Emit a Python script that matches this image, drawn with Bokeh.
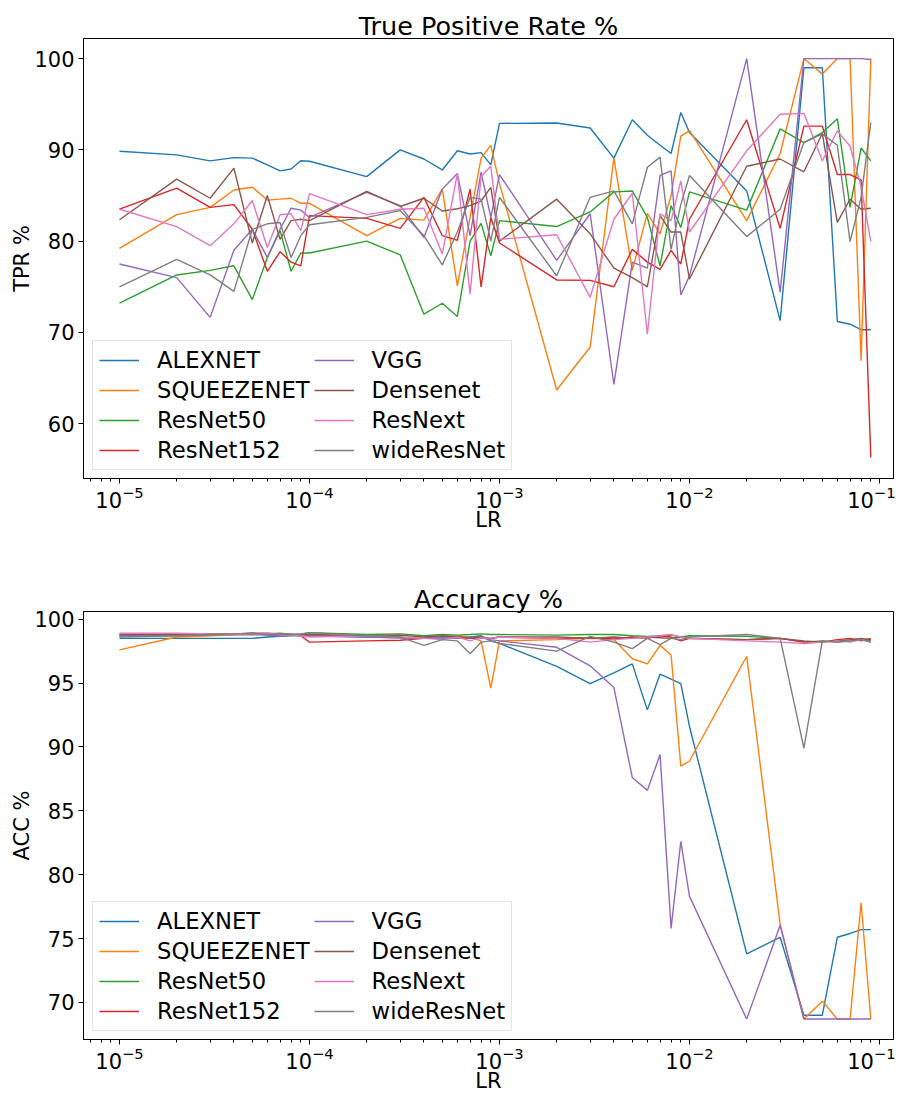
from bokeh.plotting import figure
from bokeh.models import Legend, LegendItem, FixedTicker, Range1d
from bokeh.layouts import column
from bokeh.embed import file_html
from bokeh.resources import INLINE

FONT = "DejaVu Sans"

LR = [1e-5, 2e-5, 3e-5, 4e-5, 5e-5, 6e-5, 7e-5, 8e-5, 9e-5,
      1e-4, 2e-4, 3e-4, 4e-4, 5e-4, 6e-4, 7e-4, 8e-4, 9e-4,
      1e-3, 2e-3, 3e-3, 4e-3, 5e-3, 6e-3, 7e-3, 8e-3, 9e-3,
      1e-2, 2e-2, 3e-2, 4e-2, 5e-2, 6e-2, 7e-2, 8e-2, 9e-2]

MODELS = ["ALEXNET", "SQUEEZENET", "ResNet50", "ResNet152",
          "VGG", "Densenet", "ResNext", "wideResNet"]
COLORS = ["#1f77b4", "#ff7f0e", "#2ca02c", "#d62728",
          "#9467bd", "#8c564b", "#e377c2", "#7f7f7f"]

# ---- True Positive Rate % ----
tpr_alexnet = [89.85, 89.45, 88.8, 89.15, 89.1, 88.35, 87.7, 87.9, 88.8,
               88.75, 87.07, 90.0, 89.0, 87.8, 89.9, 89.55, 89.7, 88.35,
               92.9, 92.95, 92.4, 89.1, 93.3, 91.6, 90.5, 89.6, 94.1,
               91.9, 85.5, 71.3, 99.0, 99.0, 71.2, 70.9, 70.3, 70.3]
tpr_squeezenet = [79.2, 82.9, 83.7, 85.6, 85.9, 84.5, 84.6, 84.7, 84.15,
                  84.15, 80.6, 82.5, 82.3, 85.7, 75.1, 82.6, 89.1, 90.5,
                  86.3, 63.7, 68.4, 89.1, 76.8, 83.05, 80.8, 85.0, 91.5,
                  92.1, 82.25, 89.6, 100.0, 98.3, 100.0, 100.0, 66.9, 100.0]
tpr_resnet50 = [73.2, 76.3, 76.8, 77.3, 73.6, 78.2, 81.15, 76.7, 78.7,
                78.7, 80.0, 78.5, 72.0, 73.2, 71.75, 80.0, 81.95, 78.4,
                82.25, 81.6, 83.2, 85.4, 85.5, 82.6, 77.3, 83.9, 81.5,
                85.4, 83.4, 92.3, 90.8, 91.9, 93.4, 83.7, 90.2, 88.8]
tpr_resnet152 = [83.5, 85.8, 83.7, 84.0, 81.3, 76.7, 78.85, 77.7, 77.3,
                 82.8, 82.5, 81.4, 84.8, 80.6, 80.1, 85.7, 75.0, 82.6,
                 79.8, 75.75, 75.7, 75.0, 79.1, 77.7, 76.9, 79.0, 77.5,
                 82.4, 93.3, 81.4, 92.6, 92.6, 87.3, 87.3, 86.7, 56.3]
tpr_vgg = [77.5, 76.0, 71.65, 79.0, 81.3, 78.2, 81.3, 83.6, 83.4,
           82.6, 85.35, 83.9, 80.4, 85.7, 87.4, 80.6, 87.55, 82.6,
           87.3, 77.9, 83.0, 64.3, 77.7, 77.05, 87.2, 87.7, 74.1,
           76.2, 100.0, 74.4, 100.0, 100.0, 100.0, 100.0, 100.0, 99.9]
tpr_densenet = [82.35, 86.8, 84.7, 88.0, 79.8, 85.0, 80.2, 82.25, 82.4,
                82.25, 85.45, 83.8, 84.7, 83.3, 83.55, 83.9, 84.4, 85.9,
                80.0, 84.6, 80.8, 77.05, 76.0, 75.0, 82.8, 81.0, 81.0,
                75.85, 88.2, 89.0, 87.6, 91.8, 82.05, 84.6, 83.5, 83.6]
tpr_resnext = [83.5, 81.6, 79.5, 81.9, 84.45, 79.3, 82.9, 83.0, 81.15,
               85.2, 82.9, 83.5, 83.6, 78.6, 87.4, 74.2, 87.1, 88.2,
               80.2, 80.7, 73.85, 82.4, 85.25, 69.8, 83.0, 82.25, 86.6,
               81.0, 89.9, 93.9, 94.0, 88.8, 92.1, 90.4, 86.0, 79.95]
tpr_wideresnet = [75.0, 78.0, 76.3, 74.5, 81.3, 81.9, 82.05, 78.2, 80.6,
                  81.8, 82.6, 83.35, 80.6, 77.4, 81.0, 84.8, 84.6, 80.0,
                  84.8, 76.2, 84.8, 85.5, 81.9, 88.1, 89.2, 79.1, 84.0,
                  87.2, 80.5, 83.5, 90.8, 91.75, 90.5, 79.95, 84.8, 93.0]

# ---- Accuracy % ----
acc_alexnet = [98.5, 98.5, 98.5, 98.5, 98.5, 98.6, 98.65, 98.7, 98.7,
               98.7, 98.6, 98.55, 98.5, 98.55, 98.5, 98.6, 98.7, 98.3,
               98.1, 96.3, 94.95, 95.8, 96.5, 92.9, 95.7, 95.3, 94.95,
               91.6, 73.8, 75.1, 69.0, 69.0, 75.1, 75.4, 75.7, 75.7]
acc_squeezenet = [97.6, 98.6, 98.7, 98.8, 98.8, 98.8, 98.7, 98.8, 98.7,
                  98.8, 98.7, 98.6, 98.5, 98.6, 98.7, 98.6, 98.3, 94.6,
                  98.3, 98.4, 98.5, 98.4, 96.9, 96.5, 97.95, 97.2, 88.5,
                  88.9, 97.1, 76.1, 68.7, 70.1, 68.7, 68.7, 77.8, 68.7]
acc_resnet50 = [98.7, 98.7, 98.8, 98.8, 98.8, 98.85, 98.9, 98.8, 98.8,
                98.95, 98.8, 98.85, 98.7, 98.8, 98.75, 98.8, 98.85, 98.8,
                98.8, 98.75, 98.8, 98.8, 98.7, 98.65, 98.7, 98.75, 98.6,
                98.7, 98.65, 98.5, 98.2, 98.3, 98.2, 98.3, 98.4, 98.3]
acc_resnet152 = [98.8, 98.8, 98.8, 98.85, 98.9, 98.8, 98.75, 98.8, 98.7,
                 98.2, 98.3, 98.35, 98.5, 98.6, 98.6, 98.5, 98.5, 98.5,
                 98.6, 98.5, 98.55, 98.45, 98.6, 98.5, 98.7, 98.6, 98.3,
                 98.5, 98.4, 98.5, 98.2, 98.2, 98.4, 98.5, 98.3, 98.5]
acc_vgg = [98.7, 98.75, 98.8, 98.8, 98.8, 98.75, 98.7, 98.8, 98.7,
           98.7, 98.6, 98.55, 98.5, 98.6, 98.5, 98.6, 98.55, 98.4,
           98.3, 97.8, 96.35, 94.65, 87.6, 86.6, 89.4, 75.8, 82.6,
           78.3, 68.7, 76.05, 68.7, 68.7, 68.7, 68.7, 68.7, 68.7]
acc_densenet = [98.8, 98.8, 98.85, 98.8, 98.9, 98.9, 98.85, 98.8, 98.8,
                98.8, 98.7, 98.75, 98.6, 98.7, 98.6, 98.5, 98.6, 98.5,
                98.6, 98.6, 98.5, 98.6, 98.5, 98.6, 98.55, 98.5, 98.6,
                98.5, 98.4, 98.5, 98.3, 98.2, 98.3, 98.4, 98.5, 98.4]
acc_resnext = [98.9, 98.9, 98.85, 98.8, 98.85, 98.9, 98.8, 98.75, 98.7,
               98.6, 98.7, 98.6, 98.5, 98.4, 98.6, 98.3, 98.55, 98.5,
               98.6, 98.5, 98.2, 98.4, 98.5, 98.6, 98.7, 98.8, 98.6,
               98.5, 98.3, 98.2, 98.1, 98.2, 98.3, 98.2, 98.4, 98.2]
acc_wideresnet = [98.6, 98.7, 98.8, 98.85, 98.9, 98.8, 98.85, 98.8, 98.85,
                  98.95, 98.7, 98.6, 97.95, 98.4, 98.3, 97.3, 98.2, 98.3,
                  98.1, 97.5, 98.65, 98.2, 97.7, 98.5, 98.0, 98.5, 98.4,
                  98.6, 98.8, 98.5, 89.9, 98.3, 98.2, 98.3, 98.4, 98.2]

TPR = [tpr_alexnet, tpr_squeezenet, tpr_resnet50, tpr_resnet152,
       tpr_vgg, tpr_densenet, tpr_resnext, tpr_wideresnet]
ACC = [acc_alexnet, acc_squeezenet, acc_resnet50, acc_resnet152,
       acc_vgg, acc_densenet, acc_resnext, acc_wideresnet]

TPR_TICKS = [60, 70, 80, 90, 100]
ACC_TICKS = [70, 75, 80, 85, 90, 95, 100]

FRAME_W = 810
X_START = 10 ** (-5 - 36 / 190)
X_END = 10 ** (-5 + (FRAME_W - 36) / 190)


def make(title, ylabel, series, yr, yticks, frame_h, btop, bbottom):
    p = figure(frame_width=FRAME_W, frame_height=frame_h, x_axis_type="log",
               x_range=Range1d(X_START, X_END), y_range=Range1d(*yr),
               output_backend="svg", toolbar_location=None,
               min_border_left=83, min_border_right=2,
               min_border_top=btop, min_border_bottom=bbottom)
    p.title.text = title
    p.title.text_font = FONT
    p.title.text_font_size = "25.5px"
    p.title.text_font_style = "normal"
    p.title.align = "center"
    p.title.text_color = "black"
    p.title.standoff = -4
    p.grid.visible = False
    p.outline_line_color = "black"
    p.outline_line_width = 1
    p.outline_line_alpha = 1
    p.background_fill_color = "white"
    p.border_fill_color = "white"

    for ax in (p.xaxis[0], p.yaxis[0]):
        ax.axis_line_color = "black"
        ax.major_tick_line_color = "black"
        ax.major_tick_out = 5
        ax.major_tick_in = 0
        ax.minor_tick_out = 3
        ax.minor_tick_in = 0
        ax.major_label_text_font = FONT
        ax.major_label_text_font_size = "21px"
        ax.major_label_text_color = "black"
        ax.axis_label_text_font = FONT
        ax.axis_label_text_font_size = "21px"
        ax.axis_label_text_font_style = "normal"
        ax.axis_label_text_color = "black"
    p.xaxis.axis_label = "LR"
    p.xaxis.axis_label_standoff = -3
    p.xaxis.major_label_standoff = 2
    p.yaxis.axis_label = ylabel
    p.yaxis.axis_label_standoff = -3
    p.yaxis.major_label_standoff = 4
    p.yaxis.ticker = FixedTicker(ticks=yticks)
    p.yaxis.minor_tick_line_color = None

    items = []
    for name, col, ys in zip(MODELS, COLORS, series):
        r = p.line(LR, ys, line_color=col, line_width=1.4)
        items.append(LegendItem(label=name, renderers=[r]))
    leg = Legend(items=items, location=(9, 8), orientation="vertical",
                 nrows=4, label_text_font=FONT, label_text_font_size="22.7px",
                 label_text_color="black", glyph_width=40, glyph_height=20,
                 label_standoff=18, spacing=4, padding=6, margin=0,
                 border_line_color="#cccccc", border_line_width=1,
                 background_fill_color="white", background_fill_alpha=0.8)
    p.add_layout(leg)
    return p


p1 = make("True Positive Rate %", "TPR %", TPR, (54.0, 102.2), TPR_TICKS,
          440, 38, 52)
p2 = make("Accuracy %", "ACC %", ACC, (67.1, 100.6), ACC_TICKS,
          428, 77, 54)

layout = column(p1, p2, spacing=0)
open("out.html", "w").write(file_html(layout, INLINE))
